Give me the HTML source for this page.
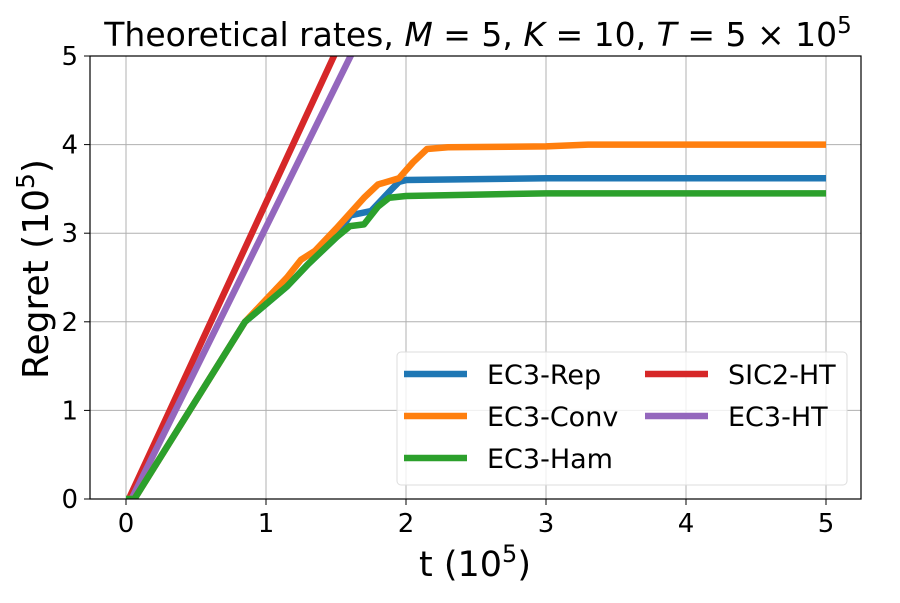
<!DOCTYPE html>
<html><head><meta charset="utf-8"><style>
body{margin:0;background:#fff;}
svg text{font-family:"DejaVu Sans","Liberation Sans",sans-serif;fill:#000;}
</style></head><body>
<svg id="chart" width="900" height="598" xmlns="http://www.w3.org/2000/svg">
<g id="grid"></g>
<g id="series"></g>
<rect x="90" y="56" width="771" height="443" fill="none" stroke="#000" stroke-width="1.2"/>
<g id="ticks"></g>
<text x="478" y="46" font-size="33" text-anchor="middle">Theoretical rates, <tspan font-style="italic">M</tspan> = 5, <tspan font-style="italic">K</tspan> = 10, <tspan font-style="italic">T</tspan> = 5 × 10<tspan font-size="23" dy="-13">5</tspan></text>
<text x="475" y="576" font-size="35" text-anchor="middle">t (10<tspan font-size="24" dy="-14">5</tspan><tspan dy="14">)</tspan></text>
<text transform="translate(48,269) rotate(-90)" font-size="36" text-anchor="middle">Regret (10<tspan font-size="25" dy="-14">5</tspan><tspan dy="14">)</tspan></text>
<g id="legend"></g>
</svg>
<script>
const xTicks=[0,1,2,3,4,5];
const yTicks=[0,1,2,3,4,5];
const seriesNames=["EC3-Rep","EC3-Conv","EC3-Ham","SIC2-HT","EC3-HT"];
const seriesColors=["#1f77b4","#ff7f0e","#2ca02c","#d62728","#9467bd"];
const repT=[0,0.06,0.85,1.0,1.15,1.3,1.5,1.6,1.75,1.9,1.95,2.0,3,5];
const repR=[0,0,2.0,2.2,2.4,2.65,2.95,3.2,3.25,3.5,3.58,3.6,3.62,3.62];
const convT=[0,0.06,0.85,1.0,1.15,1.25,1.35,1.5,1.7,1.8,1.95,2.05,2.15,2.3,3,3.3,5];
const convR=[0,0,2.0,2.25,2.5,2.7,2.8,3.05,3.4,3.55,3.62,3.8,3.95,3.97,3.98,4.0,4.0];
const hamT=[0,0.06,0.85,1.0,1.15,1.3,1.5,1.6,1.7,1.8,1.88,2.0,3,5];
const hamR=[0,0,2.0,2.2,2.4,2.65,2.95,3.08,3.1,3.3,3.4,3.42,3.45,3.45];
const sicT=[0,0.02,1.5];
const sicR=[0,0,5.05];
const htT=[0,0.04,1.62];
const htR=[0,0,5.05];
const X=t=>126+t*140, Y=r=>499-r*88.6;
const NS="http://www.w3.org/2000/svg";
function mk(tag,attrs,parent){const e=document.createElementNS(NS,tag);for(const k in attrs)e.setAttribute(k,attrs[k]);parent.appendChild(e);return e;}
const grid=document.getElementById('grid'),ticks=document.getElementById('ticks');
xTicks.forEach(t=>{
 const g=mk('line',{x1:X(t),x2:X(t),y1:56,y2:499,stroke:'#b0b0b0','stroke-width':1},grid);
 
 
 mk('line',{x1:X(t),x2:X(t),y1:499,y2:505,stroke:'#000'},ticks);
 const l=mk('text',{x:X(t),y:532,'font-size':26,'text-anchor':'middle'},ticks);l.textContent=t;
 
 
});
yTicks.forEach(r=>{
 const g=mk('line',{x1:90,x2:861,y1:Y(r),y2:Y(r),stroke:'#b0b0b0','stroke-width':1},grid);
 
 
 mk('line',{x1:84,x2:90,y1:Y(r),y2:Y(r),stroke:'#000'},ticks);
 const l=mk('text',{x:78,y:Y(r)+9,'font-size':26,'text-anchor':'end'},ticks);l.textContent=r;
 
 
});
const data=[[repT,repR],[convT,convR],[hamT,hamR],[sicT,sicR],[htT,htR]];
const order=[3,4,0,1,2];
const sg=document.getElementById('series');
const cp=mk('clipPath',{id:'clip'},sg);
mk('rect',{x:90,y:56,width:771,height:443},cp);
order.forEach(i=>{
 const [ts,rs]=data[i];
 const p=mk('polyline',{points:ts.map((t,j)=>X(t)+','+Y(rs[j])).join(' '),fill:'none',stroke:seriesColors[i],'stroke-width':6.5,'stroke-linejoin':'round','clip-path':'url(#clip)'},sg);
 
 
});
const lg=document.getElementById('legend');
const box=mk('rect',{x:397,y:352,width:450,height:133,rx:4,fill:'#fff','fill-opacity':0.8,stroke:'#ddd'},lg);


const pos=[[404,374],[404,416],[404,458],[645,374],[645,416]];
seriesNames.forEach((n,i)=>{
 const [x,y]=pos[i];
 const ln=mk('line',{x1:x,x2:x+63,y1:y,y2:y,stroke:seriesColors[i],'stroke-width':6.5},lg);
 
 
 const t=mk('text',{x:x+83,y:y+10,'font-size':27},lg);t.textContent=n;
 
 
});
</script>
</body></html>
